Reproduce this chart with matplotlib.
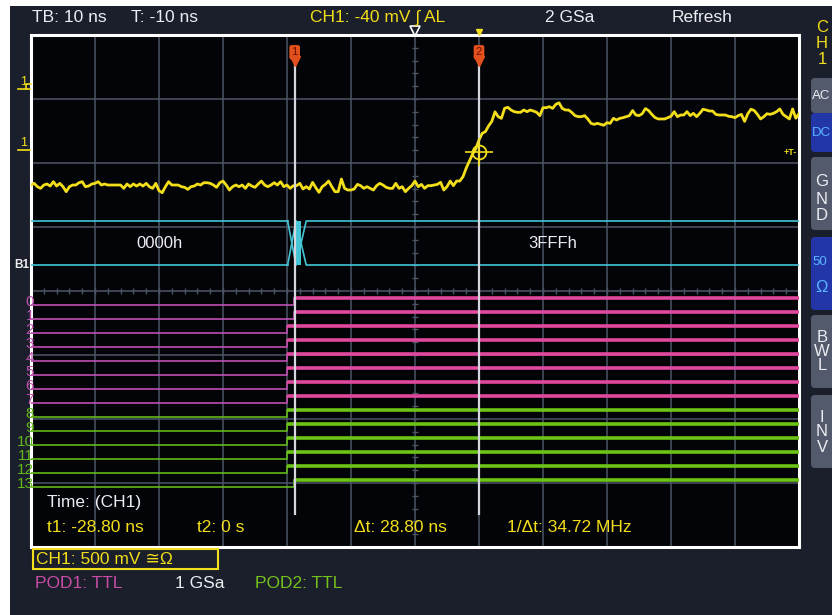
import matplotlib.pyplot as plt
import matplotlib.transforms as mtransforms
import numpy as np
from matplotlib.lines import Line2D
from matplotlib.patches import Rectangle, FancyBboxPatch

# ~~~ DATA ~~~~~~~~~~~~~~~~~~~~~~~~~~~~~~~~~~~~~~~~~~~~~~~~~~~~~~~~~~~~~~~~~~~~
# CH1 analog trace, one sample every 0.5 ns starting at -70 ns (values in mV)
t_start, t_step = -70.0, 0.5
ch1_mv = [
    -297, -284, -310, -323, -297, -289, -305, -271, -305, -284,
    -310, -349, -310, -297, -297, -279, -271, -310, -305, -289,
    -284, -271, -297, -289, -297, -297, -297, -297, -297, -323,
    -289, -310, -289, -305, -289, -305, -284, -310, -323, -284,
    -341, -357, -310, -271, -297, -297, -297, -310, -315, -331,
    -310, -305, -289, -297, -279, -279, -284, -297, -315, -279,
    -266, -297, -336, -310, -297, -310, -297, -323, -289, -305,
    -315, -289, -266, -297, -310, -297, -279, -297, -271, -310,
    -297, -323,
    -302, -302, -284, -328, -310, -328, -276, -318, -354, -310,
    -292, -266, -310, -349, -349, -250, -323, -336,
    -336, -328, -292, -302, -323, -310, -323, -336, -302, -284,
    -297, -315, -323, -323, -284, -323, -310, -349, -323, -302,
    -266, -310, -292, -323, -302, -302, -297, -292, -276, -336,
    -310, -266, -302, -266, -266,
    -232, -165, -110, -55, -15, 55, 107, 120, 165, 200,
    275, 237, 224, 302, 310, 289, 276, 271, 271, 289,
    276, 289, 281, 271, 245, 307,
    307, 315, 302, 333, 345, 302, 289, 289, 270, 245,
    237, 237, 245, 219, 185, 177, 185, 177, 170, 190,
    185, 224, 211, 224, 229, 237, 245, 285, 250, 245,
    260, 300, 285, 255, 230, 219, 219, 219, 229, 240,
    276, 237, 250, 250, 276, 245, 263, 237, 263, 295,
    289, 281, 281, 255, 250, 250, 250, 240, 237, 229,
    245, 255, 200, 260, 295, 285, 255, 219, 237, 260,
    255, 263, 276, 297, 255, 237, 219, 297, 225, 260,
]
ch1_scale = 500      # mV/div
ch1_offset = 2.25    # div above screen centre
trig_level = -40     # mV

# logic channels 0..13: time (ns) where each bit goes high
bit_names = [str(i) for i in range(14)]
bit_rise = [-28.9, -28.9, -30.0, -30.0, -30.0, -30.0, -30.0,
            -30.0, -30.0, -30.0, -30.0, -30.0, -30.0, -28.9]

# bus B1
bus_values = ['0000h', '3FFFh']
bus_edges = [-29.9, -28.6, -27.8, -27.0]

# cursors
t1, t2 = -28.8, 0.0

# ~~~ STYLE ~~~~~~~~~~~~~~~~~~~~~~~~~~~~~~~~~~~~~~~~~~~~~~~~~~~~~~~~~~~~~~~~~~~
W, H = 832, 615
BG = '#1b1f2b'
GRID = '#4c5466'
YEL = '#f2de1a'
CYAN = '#44c6d6'
PINK_HI, PINK_LO = '#e2489e', '#bf4fb0'
GRN_HI, GRN_LO = '#6cc414', '#62b81a'
ORANGE = '#e2501e'
WHITE = '#ececf2'
GRAYBTN = '#535a6c'
BLUEBTN = '#2236a8'

plt.rcParams['font.family'] = ['Liberation Sans', 'DejaVu Sans']

fig = plt.figure(figsize=(W / 100, H / 100), dpi=100, facecolor='white')
# pixel coordinates, origin top-left
pix = mtransforms.Affine2D().scale(1 / 100, -1 / 100).translate(0, H / 100) + fig.dpi_scale_trans

fig.add_artist(Rectangle((10, 6), W - 10, H - 6, transform=pix, fc=BG, ec='none', zorder=0))

ax = fig.add_axes([31 / W, (H - 547) / H, 768 / W, 512 / H])
ax.set_facecolor('#030407')
ax.set_xlim(-70, 50)
ax.set_ylim(-4, 4)
ax.set_xticks(np.arange(-70, 51, 10))
ax.set_yticks(np.arange(-4, 5))
ax.tick_params(length=0, labelbottom=False, labelleft=False)
ax.grid(color=GRID, lw=1.1)
ax.set_axisbelow(True)
for s in ax.spines.values():
    s.set_color('white')
    s.set_linewidth(2.2)

# centre axes with minor ticks
mx = np.arange(-70, 50.01, 2.0)
ax.plot(mx, np.zeros_like(mx), ls='none', marker='|', ms=5, mew=1, color=GRID, zorder=1)
my = np.arange(-4, 4.01, 0.2)
ax.plot(np.full_like(my, -10), my, ls='none', marker='_', ms=5, mew=1, color=GRID, zorder=1)

# analog trace
times = t_start + t_step * np.arange(len(ch1_mv))
ax.plot(times, ch1_offset + np.array(ch1_mv) / ch1_scale, color=YEL, lw=2.0, zorder=5)

# bus
top, bot = 70 / 64, 26 / 64
mid = (top + bot) / 2
e0, e1, e2, e3 = bus_edges
for y in (top, bot):
    ax.plot([-70, e0], [y, y], color=CYAN, lw=1.2, zorder=4)
    ax.plot([e2, e3, 50], [mid, y, y], color=CYAN, lw=1.2, zorder=4)
ax.plot([e0, e1], [top, bot], color=CYAN, lw=1.2, zorder=4)
ax.plot([e0, e1], [bot, top], color=CYAN, lw=1.2, zorder=4)
ax.fill_between([e1, e2], bot, top, color=CYAN, lw=0, zorder=4)
ax.text((-70 + e0) / 2, mid, bus_values[0], color=WHITE, fontsize=12, ha='center', va='center')
ax.text((e3 + 50) / 2, mid, bus_values[1], color=WHITE, fontsize=12, ha='center', va='center')
ax.text(-0.002, bot, 'B1', transform=mtransforms.blended_transform_factory(ax.transAxes, ax.transData),
        color=WHITE, fontsize=8.5, fontweight='bold', ha='right', va='center', clip_on=False)

# logic channels
lab_tr = mtransforms.blended_transform_factory(ax.transAxes, ax.transData)
for k, (name, tr) in enumerate(zip(bit_names, bit_rise)):
    hi = -(7 + 14 * k) / 64
    lo = -(14 + 14 * k) / 64
    c_hi, c_lo = (PINK_HI, PINK_LO) if k < 8 else (GRN_HI, GRN_LO)
    ax.plot([-70, tr, tr], [lo, lo, hi], color=c_lo, lw=1.2, zorder=4)
    ax.plot([tr, 50], [hi, hi], color=c_hi, lw=2.6, zorder=4, solid_capstyle='butt')
    ax.text(0.004, (hi + lo) / 2, name, transform=lab_tr, color=c_lo, fontsize=11,
            ha='right', va='center', clip_on=False, zorder=6)

# cursors
ax.vlines([t1, t2], -3.5, 3.58, color='#d6d6de', lw=1.6, zorder=8)
for n, tc in enumerate((t1, t2), start=1):
    ax.plot(tc, 3.6, marker='v', ms=7, color=ORANGE, zorder=9, clip_on=False)
    ax.text(tc, 3.73, str(n), fontsize=8, color='#6a1000', ha='center', va='center', zorder=10,
            bbox=dict(boxstyle='round,pad=0.2', fc=ORANGE, ec='none'))

# trigger markers
ax.plot(-10, 4.07, marker='v', ms=7, mfc='none', mec='white', mew=1.2, clip_on=False, zorder=10)
ax.plot(t2, 4.05, marker='v', ms=4.5, color=YEL, clip_on=False, zorder=10)
ty = ch1_offset + trig_level / ch1_scale
ax.plot(t2, ty, marker='o', ms=10, mfc='none', mec=YEL, mew=1.3, zorder=9)
ax.plot(t2, ty, marker='+', ms=20, mec=YEL, mew=1.2, zorder=9)
ax.text(49.6, ty, '+T-', color=YEL, fontsize=6.5, fontweight='bold', ha='right', va='center')

# channel level markers on the left
for y in (84, 145):
    fig.text(24, y - 2, '1', transform=pix, color=YEL, fontsize=9, ha='center', va='center')
    fig.add_artist(Line2D([18, 30], [y + 5, y + 5], transform=pix, color=YEL, lw=1.2))
fig.add_artist(Line2D([26, 26, 31], [89, 84, 84], transform=pix, color=YEL, lw=1.2))

# header
hdr = [('TB: 10 ns', 32, WHITE), ('T: -10 ns', 131, WHITE),
       ('CH1: -40 mV \u222b AL', 310, YEL), ('2 GSa', 545, WHITE), ('Refresh', 672, WHITE)]
for txt, x, c in hdr:
    fig.text(x, 18, txt, transform=pix, color=c, fontsize=12.5, va='center')

# measurement read-out
meas = [('Time: (CH1)', 47, 503, WHITE), ('t1: -28.80 ns', 47, 528, YEL),
        ('t2: 0 s', 197, 528, YEL), ('\u0394t: 28.80 ns', 354, 528, YEL),
        ('1/\u0394t: 34.72 MHz', 507, 528, YEL)]
for txt, x, y, c in meas:
    fig.text(x, y, txt, transform=pix, color=c, fontsize=12.5, va='center', zorder=10)

# bottom status line
fig.add_artist(Rectangle((33, 549), 185, 20, transform=pix, fc='none', ec=YEL, lw=1.5))
fig.text(36, 559, 'CH1: 500 mV \u2245\u03a9', transform=pix, color=YEL, fontsize=12.5, va='center')
fig.text(35, 583, 'POD1: TTL', transform=pix, color='#c94ca6', fontsize=12.5, va='center')
fig.text(175, 583, '1 GSa', transform=pix, color=WHITE, fontsize=12.5, va='center')
fig.text(255, 583, 'POD2: TTL', transform=pix, color='#74c21c', fontsize=12.5, va='center')

# right side menu
for ch, y in zip('CH1', (28, 44, 60)):
    fig.text(822, y, ch, transform=pix, color=YEL, fontsize=12, ha='center', va='center')
buttons = [(78, 113, GRAYBTN, [('AC', 96, WHITE)]),
           (113, 152, BLUEBTN, [('DC', 133, '#5ab4ff')]),
           (157, 230, GRAYBTN, [('G', 182, WHITE), ('N', 199, WHITE), ('D', 215, WHITE)]),
           (237, 310, BLUEBTN, [('50', 262, '#5ab4ff'), ('\u03a9', 288, '#5ab4ff')]),
           (315, 388, GRAYBTN, [('B', 337, WHITE), ('W', 351, WHITE), ('L', 366, WHITE)]),
           (395, 468, GRAYBTN, [('I', 417, WHITE), ('N', 432, WHITE), ('V', 447, WHITE)])]
for y0, y1, col, labels in buttons:
    fig.add_artist(FancyBboxPatch((811, y0), 30, y1 - y0, boxstyle='round,pad=0,rounding_size=4',
                                  transform=pix, fc=col, ec='none'))
    for txt, y, c in labels:
        if len(txt) > 1:
            fig.text(812, y, txt, transform=pix, color=c, fontsize=9.5, ha='left', va='center')
        else:
            fig.text(822, y, txt, transform=pix, color=c, fontsize=12, ha='center', va='center')

fig.savefig('out.png', dpi=100, facecolor=fig.get_facecolor())
